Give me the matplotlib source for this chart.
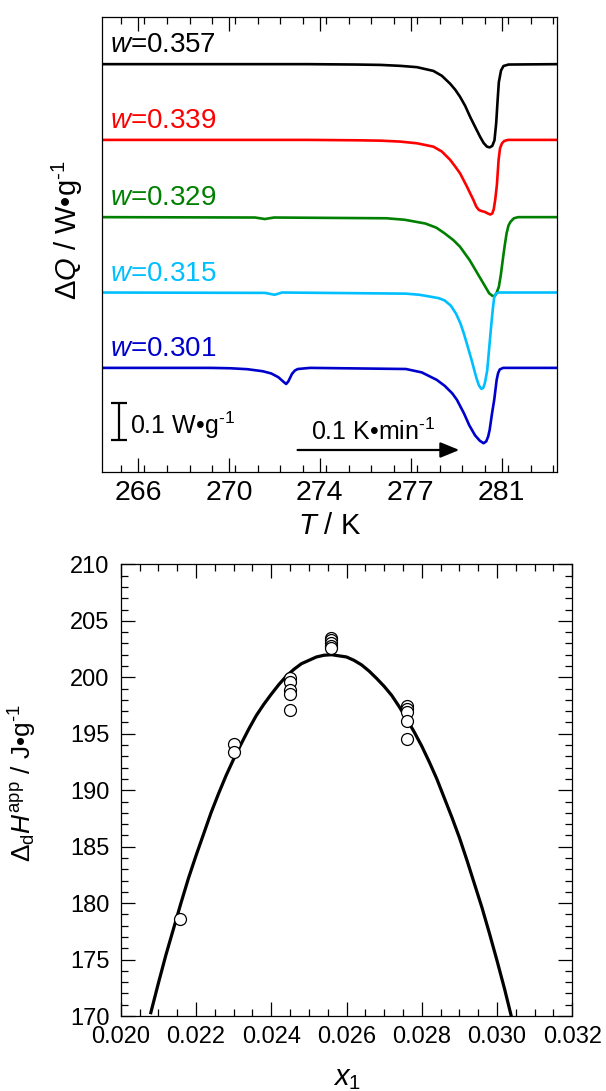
import matplotlib
matplotlib.use('Agg')
import matplotlib.pyplot as plt
from matplotlib.ticker import MultipleLocator

plt.rcParams['font.family'] = ['Liberation Sans', 'DejaVu Sans']
plt.rcParams['mathtext.fontset'] = 'custom'
plt.rcParams['mathtext.rm'] = 'Liberation Sans'
plt.rcParams['mathtext.it'] = 'Liberation Sans:italic'
plt.rcParams['mathtext.bf'] = 'Liberation Sans:bold'

# ---- DSC curves (T in K, heat flow deviation from baseline in W/g) ----
T_357 = [264.52, 273.0, 275.0, 276.0, 276.81, 277.50, 278.18, 278.53, 278.87, 279.08,
         279.28, 279.49, 279.70, 279.90, 280.11, 280.25, 280.39, 280.50, 280.61, 280.70,
         280.77, 280.83, 280.88, 280.97, 281.07, 281.28, 283.30]
dQ_357 = [0, 0, -0.001, -0.002, -0.0045, -0.008, -0.018, -0.031, -0.052, -0.068,
          -0.087, -0.111, -0.141, -0.167, -0.194, -0.210, -0.220, -0.222, -0.218, -0.203,
          -0.158, -0.096, -0.048, -0.017, -0.005, -0.001, 0]

T_339 = [264.52, 273.0, 275.0, 276.0, 276.81, 277.50, 278.18, 278.53, 278.87, 279.08,
         279.28, 279.56, 279.83, 279.95, 280.06, 280.18, 280.30, 280.42, 280.53, 280.61,
         280.67, 280.73, 280.80, 280.87, 280.93, 281.01, 281.10, 281.25, 283.30]
dQ_339 = [0, 0, -0.001, -0.002, -0.0045, -0.009, -0.018, -0.031, -0.053, -0.071,
          -0.089, -0.124, -0.160, -0.178, -0.187, -0.190, -0.192, -0.196, -0.199, -0.196,
          -0.185, -0.160, -0.120, -0.053, -0.022, -0.009, -0.003, 0, 0]

T_329 = [264.52, 270.83, 271.23, 271.61, 276.25, 277.0, 277.85, 278.30, 278.64, 279.00,
         279.28, 279.68, 280.08, 280.30, 280.48, 280.62, 280.72, 280.80, 280.88, 280.96,
         281.04, 281.12, 281.20, 281.28, 281.36, 281.50, 281.68, 283.30]
dQ_329 = [0, -0.001, -0.005, -0.001, -0.003, -0.007, -0.017, -0.028, -0.043, -0.061,
          -0.079, -0.115, -0.159, -0.183, -0.203, -0.210, -0.210, -0.200, -0.186, -0.155,
          -0.115, -0.077, -0.043, -0.022, -0.0125, -0.003, 0, 0]

T_315 = [264.52, 271.24, 271.63, 271.94, 277.05, 277.60, 278.05, 278.40, 278.64, 278.90,
         279.12, 279.30, 279.44, 279.60, 279.76, 279.88, 279.96, 280.06, 280.16, 280.24,
         280.31, 280.36, 280.40, 280.48, 280.56, 280.63, 280.69, 280.76, 280.88, 283.30]
dQ_315 = [0, -0.001, -0.006, 0, -0.003, -0.006, -0.011, -0.015, -0.021, -0.035,
          -0.057, -0.083, -0.110, -0.145, -0.181, -0.210, -0.229, -0.248, -0.257, -0.254,
          -0.240, -0.222, -0.208, -0.150, -0.092, -0.045, -0.012, -0.003, 0, 0]

T_301 = [264.52, 269.00, 269.80, 270.51, 271.15, 271.50, 271.79, 271.98, 272.11, 272.20,
         272.35, 272.47, 272.59, 273.10, 277.05, 277.70, 278.32, 278.65, 278.96, 279.15,
         279.44, 279.66, 279.90, 280.09, 280.25, 280.36, 280.44, 280.50, 280.60, 280.69,
         280.79, 280.85, 280.92, 281.06, 283.30]
dQ_301 = [0, 0, -0.001, -0.0035, -0.009, -0.015, -0.025, -0.036, -0.043, -0.036,
          -0.016, -0.007, -0.003, 0, -0.003, -0.012, -0.032, -0.048, -0.068, -0.085,
          -0.121, -0.153, -0.180, -0.194, -0.201, -0.196, -0.183, -0.166, -0.121, -0.085,
          -0.032, -0.014, -0.004, 0, 0]

labels_w = ['0.357', '0.339', '0.329', '0.315', '0.301']
colors_w = ['black', '#ff0000', '#008000', '#00bfff', '#0000cd']
offsets = [1.087, 0.885, 0.679, 0.478, 0.277]

T_ticks = [266, 269.75, 273.5, 277.25, 281]
T_ticklabels = ['266', '270', '274', '277', '281']

# ---- enthalpy vs x1 ----
x1_pts = [0.02158, 0.0230, 0.0230, 0.0245, 0.0245, 0.0245, 0.0245, 0.0245,
          0.0256, 0.0256, 0.0256, 0.0256, 0.0256, 0.0276, 0.0276, 0.0276, 0.0276, 0.0276]
H_pts = [178.6, 194.1, 193.4, 199.9, 199.6, 198.9, 198.5, 197.1,
         203.5, 203.3, 203.0, 202.8, 202.6, 197.5, 197.2, 196.9, 196.1, 194.5]

x1_fit = [0.0208, 0.0210, 0.0212, 0.0214, 0.0216, 0.0218, 0.0220, 0.0222, 0.0224,
          0.0226, 0.0228, 0.0230, 0.0232, 0.0234, 0.0236, 0.0238, 0.0240, 0.0242,
          0.0244, 0.0246, 0.0248, 0.0250, 0.0252, 0.0254, 0.0256, 0.0258, 0.0260,
          0.0262, 0.0264, 0.0266, 0.0268, 0.0270, 0.0272, 0.0274, 0.0276, 0.0278,
          0.0280, 0.0282, 0.0284, 0.0286, 0.0288, 0.0290, 0.0292, 0.0294, 0.0296,
          0.0298, 0.0300, 0.0302, 0.0304]
H_fit = [170.3, 172.9, 175.4, 177.7, 180.0, 182.2, 184.2, 186.1, 188.0,
         189.7, 191.3, 192.75, 194.1, 195.4, 196.6, 197.6, 198.5, 199.35,
         200.1, 200.7, 201.2, 201.5, 201.8, 201.95, 202.0, 201.9, 201.8,
         201.5, 201.1, 200.55, 199.9, 199.2, 198.4, 197.4, 196.3, 195.15,
         193.9, 192.5, 191.0, 189.3, 187.6, 185.8, 183.8, 181.7, 179.6,
         177.3, 174.9, 172.4, 169.7]

x1_ticks = [0.020, 0.022, 0.024, 0.026, 0.028, 0.030, 0.032]
x1_ticklabels = ['0.020', '0.022', '0.024', '0.026', '0.028', '0.030', '0.032']

inv = '$^{\u2010 1}$'.replace(' ', '')  # superscript "-1" drawn with a short hyphen

fig = plt.figure(figsize=(6.06, 10.91), dpi=100)

# ================= top panel =================
ax1 = fig.add_axes([0.1683, 0.5676, 0.7513, 0.4170])
curves = [(T_357, dQ_357), (T_339, dQ_339), (T_329, dQ_329), (T_315, dQ_315), (T_301, dQ_301)]
for (T, dQ), off, c, lab in zip(curves, offsets, colors_w, labels_w):
    ax1.plot(T, [d + off for d in dQ], color=c, lw=1.9, solid_joinstyle='round')
    ax1.text(264.85, off + 0.032, r'$\mathit{w}$=' + lab, color=c, fontsize=20,
             ha='left', va='baseline')

ax1.set_xlim(264.515, 283.29)
ax1.set_ylim(0, 1.2133)
ax1.set_yticks([])
ax1.set_xticks(T_ticks, T_ticklabels)
ax1.xaxis.set_minor_locator(MultipleLocator(0.9375))
ax1.tick_params(axis='x', which='both', direction='in', top=True, bottom=True, width=0.9)
ax1.tick_params(axis='x', which='major', length=10, labelsize=20.5, pad=6)
ax1.tick_params(axis='x', which='minor', length=5)
for s in ax1.spines.values():
    s.set_linewidth(0.9)

# scale bar
ax1.errorbar([265.23], [0.1345], yerr=[0.05], fmt='none', ecolor='black',
             elinewidth=1.6, capsize=6, capthick=1.6)
ax1.text(265.67, 0.102, '0.1 W•g' + inv, fontsize=18, ha='left', va='baseline')

# heating rate arrow
ax1.annotate('', xy=(279.25, 0.058), xytext=(272.58, 0.058),
             arrowprops=dict(arrowstyle='-|>,head_length=1.15,head_width=0.47',
                             color='black', lw=1.6, shrinkA=0, shrinkB=0,
                             mutation_scale=10))
ax1.text(275.71, 0.0845, '0.1 K•min' + inv, fontsize=18, ha='center', va='baseline')

ax1.set_xlabel(r'$\mathit{T}$ / K', fontsize=21, labelpad=4)
ax1.set_ylabel('Δ$\\mathit{Q}$ / W•g' + inv, fontsize=21)
ax1.yaxis.set_label_coords(-0.037, 0.53)

# ================= bottom panel =================
ax2 = fig.add_axes([0.1992, 0.0687, 0.7452, 0.4140])
ax2.plot(x1_fit, H_fit, color='black', lw=2.3, zorder=2, solid_joinstyle='round')
ax2.plot(x1_pts, H_pts, 'o', ms=8.6, mfc='white', mec='black', mew=0.9, zorder=3)

ax2.set_xlim(0.020, 0.032)
ax2.set_ylim(170, 210)
ax2.set_xticks(x1_ticks, x1_ticklabels)
ax2.xaxis.set_minor_locator(MultipleLocator(0.0005))
ax2.yaxis.set_major_locator(MultipleLocator(5))
ax2.yaxis.set_minor_locator(MultipleLocator(1))
ax2.tick_params(which='both', direction='in', top=True, bottom=True, left=True,
                right=True, width=0.9)
ax2.tick_params(which='major', length=10, labelsize=17)
ax2.tick_params(which='minor', length=5)
ax2.tick_params(axis='x', pad=7)
ax2.tick_params(axis='y', pad=8)
for s in ax2.spines.values():
    s.set_linewidth(0.9)

ax2.set_xlabel(r'$\mathit{x}_1$', fontsize=21, labelpad=12)
ax2.set_ylabel(r'$\Delta_{\mathrm{d}}\mathit{H}^{\mathrm{app}}$ / J•g' + inv, fontsize=19)
ax2.yaxis.set_label_coords(-0.182, 0.516)

fig.savefig('out.png', dpi=100)
